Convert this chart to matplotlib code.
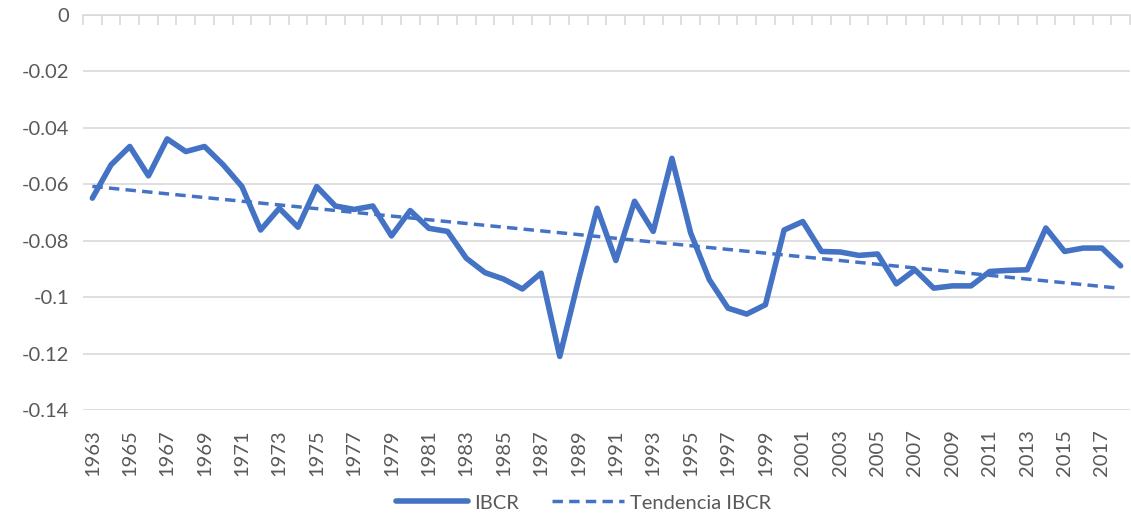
import numpy as np
import matplotlib
matplotlib.use("Agg")
from matplotlib import pyplot as plt
from matplotlib.ticker import FixedLocator

# Define data.
years = list(range(1963, 2019))
ibcr = [-0.0649, -0.0531, -0.0466, -0.0570, -0.0439, -0.0484, -0.0466, -0.0531,
        -0.0608, -0.0762, -0.0685, -0.0752, -0.0608, -0.0677, -0.0689, -0.0677,
        -0.0783, -0.0693, -0.0756, -0.0767, -0.0862, -0.0913, -0.0936, -0.0971,
        -0.0915, -0.1210, -0.0940, -0.0685, -0.0870, -0.0660, -0.0767, -0.0508,
        -0.0772, -0.0938, -0.1039, -0.1060, -0.1027, -0.0762, -0.0732, -0.0838,
        -0.0840, -0.0852, -0.0847, -0.0953, -0.0903, -0.0968, -0.0960, -0.0960,
        -0.0909, -0.0905, -0.0903, -0.0755, -0.0838, -0.0826, -0.0826, -0.0889]
y_ticks = [0, -0.02, -0.04, -0.06, -0.08, -0.1, -0.12, -0.14]
y_tick_labels = ['0', '-0.02', '-0.04', '-0.06', '-0.08', '-0.1', '-0.12', '-0.14']

# Linear trend line (like Excel's trendline).
x = np.arange(len(years))
slope, intercept = np.polyfit(x, ibcr, 1)
trend = slope * x + intercept

blue = '#4472C4'
grid = '#D9D9D9'
text = '#595959'
plt.rcParams['font.family'] = ['Lato', 'DejaVu Sans']

# Make plot.
fig = plt.figure(figsize=(11.31, 5.27), dpi=100)
ax = fig.add_axes([0.0734, 0.222, 0.9257, 0.7495])
ax.plot(x, ibcr, color=blue, linewidth=4.0, solid_joinstyle='round',
        solid_capstyle='round', label='IBCR', zorder=3)
ax.plot(x, trend, color=blue, linewidth=2.5, linestyle=(0, (3, 1.8)),
        label='Tendencia IBCR', zorder=3)

# Customize plot.
ax.set_xlim(-0.5, len(years) - 0.5)
ax.set_ylim(-0.14, 0)
ax.set_yticks(y_ticks)
ax.set_yticklabels(y_tick_labels)
ax.yaxis.grid(True, color=grid, linewidth=1.2)
ax.set_axisbelow(True)
for side in ['left', 'right', 'bottom']:
    ax.spines[side].set_visible(False)
ax.spines['top'].set_color(grid)
ax.spines['top'].set_linewidth(1.2)

ax.set_xticks(x[::2])
ax.set_xticklabels([str(y) for y in years[::2]], rotation=90)
ax.xaxis.set_minor_locator(FixedLocator(np.arange(len(years) + 1) - 0.5))
ax.tick_params(axis='x', which='major', length=0, labelsize=14.5,
               labelcolor=text, pad=14)
ax.tick_params(axis='x', which='minor', top=True, bottom=False,
               direction='in', length=7, width=1.2, color=grid)
ax.tick_params(axis='y', length=0, labelsize=14.5, labelcolor=text, pad=10)

leg = fig.legend(loc='lower center', bbox_to_anchor=(0.516, -0.005), ncol=2,
                 frameon=False, fontsize=14.5, handlelength=3.6,
                 columnspacing=1.6, handletextpad=0.3)
for t in leg.get_texts():
    t.set_color(text)

fig.savefig('out.png', dpi=100)
